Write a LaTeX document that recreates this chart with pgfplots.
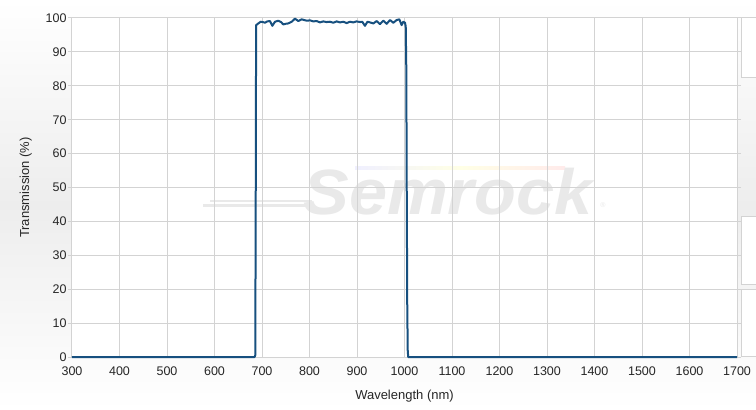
\documentclass[border=0pt]{standalone}
\usepackage{pgfplots}
\pgfplotsset{compat=1.18}
\usepackage{fontspec}
\setmainfont{Liberation Sans}
\definecolor{curve}{HTML}{17507F}
\definecolor{gridc}{HTML}{D3D3D3}
\definecolor{wm}{HTML}{E9E9E9}
\begin{document}
\begin{tikzpicture}[x=1pt,y=1pt]
\useasboundingbox (0,0) rectangle (756,410);
\shade[top color=white, bottom color=white, middle color=black!7] (0,0) rectangle (756,410);
\fill[white] (72,53) rectangle (737,392);
% right-hand panels
\filldraw[fill=white, draw=gridc, line width=1pt] (741,332) rectangle (760,392);
\filldraw[fill=white, draw=gridc, line width=1pt] (741,125) rectangle (760,193);
\filldraw[fill=white, draw=gridc, line width=1pt] (741,53) rectangle (760,120);
% watermark
\shade[left color=blue!6, right color=red!8, middle color=yellow!10] (355,240) rectangle (565,243);
\fill[wm] (203,203) rectangle (312,205.5);
\fill[wm] (210,207.5) rectangle (312,209.5);
\node[wm, font=\fontsize{64}{64}\selectfont\bfseries\itshape, anchor=center, xscale=1.07] at (448,218) {Semrock};
\node[wm, font=\fontsize{7}{7}\selectfont, anchor=center] at (603,205) {®};
\begin{axis}[
  at={(72pt,53pt)}, anchor=south west,
  scale only axis, width=665pt, height=339pt,
  xmin=300, xmax=1700, ymin=0, ymax=100,
  xtick={300,400,...,1700}, ytick={0,10,...,100},
  grid=major, grid style={gridc, line width=1pt},
  axis line style={gridc, line width=1pt},
  xtick style={draw=none},
  ytick style={gridc, line width=1pt},
  tick align=outside, major tick length=4pt,
  /pgf/number format/assume math mode=true,
  /pgf/number format/1000 sep={},
  ticklabel style={font=\fontsize{12.5}{14}\selectfont, text=black!85},
  xticklabel style={yshift=-2pt},
  yticklabel style={xshift=2pt},
  xlabel={Wavelength (nm)}, ylabel={Transmission (\%)},
  label style={font=\fontsize{13}{15}\selectfont, text=black!85},
  xlabel style={yshift=-8pt},
  ylabel style={yshift=7pt},
  clip=false,
]
\addplot[curve, line width=2pt, line join=round] coordinates {
(300,0) (684.5,0) (685.8,0.5) (686.7,40) (687.6,97.9) (692.3,98.4) (697.2,98.9)
(702,98.8) (706.3,98.6) (711,99.0) (716.8,99.1) (721.8,97.7) (727.4,98.9)
(734.4,99.2) (740,98.8) (744.9,98.1) (750,98.3) (755.4,98.4) (762.5,98.9)
(769.5,99.8) (776.5,99.1) (783.5,99.6) (794.1,99.2) (801,99.3) (808.1,99.0)
(815,99.1) (822.1,98.7) (829,99.0) (836.1,98.8) (843,98.9) (850.2,98.6)
(857,99.0) (864.2,98.7) (871,98.9) (878.3,98.5) (885,98.9) (892.3,98.7)
(899,99.0) (906.3,98.8) (911,98.9) (916.8,97.7) (922,98.9) (927.4,98.7)
(934.4,98.4) (941.4,99.1) (948.4,98.2) (955.4,99.2) (962.5,98.3) (969.5,99.4)
(976.5,98.6) (983.5,99.4) (989.1,99.6) (994.0,97.9) (997.5,98.9) (1001.1,98.6)
(1002.6,97.5) (1003.8,85) (1004.7,50) (1005.8,15) (1006.8,2) (1007.8,0) (1700,0)
};
\end{axis}
\end{tikzpicture}
\end{document}
